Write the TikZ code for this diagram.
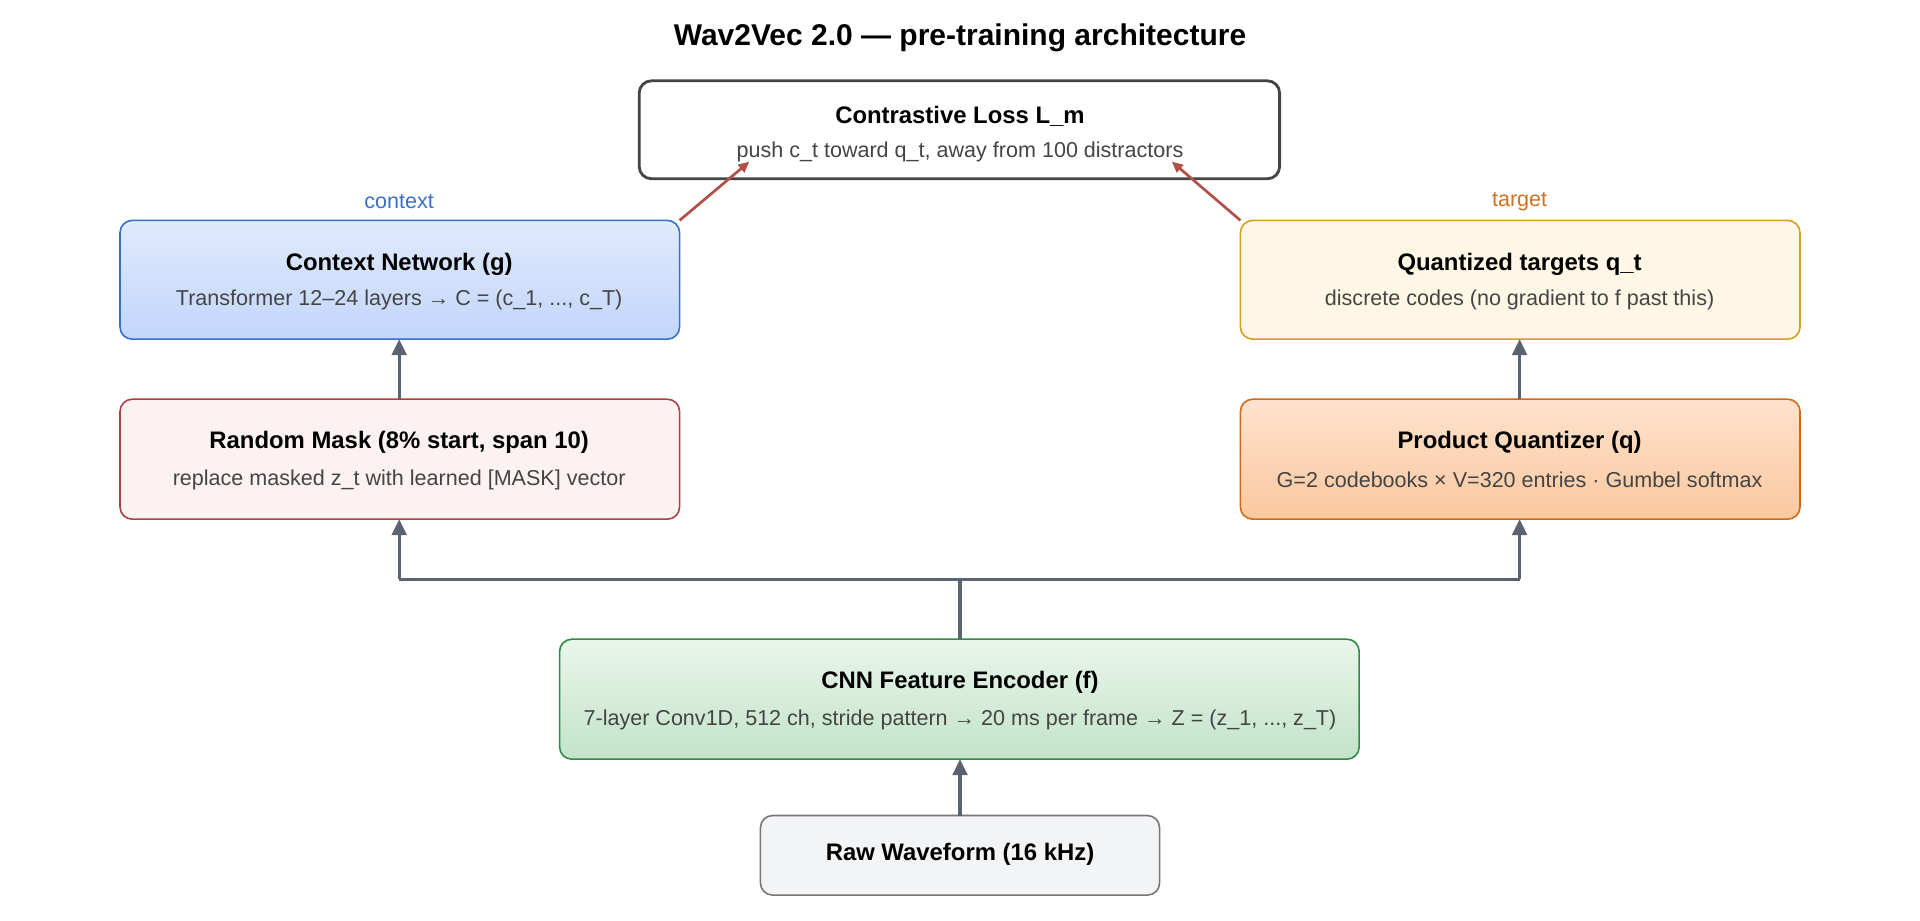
\documentclass[tikz,border=0pt]{standalone}
\usepackage{fontspec}
\setmainfont{Liberation Sans}
\usetikzlibrary{arrows.meta}
\definecolor{subc}{HTML}{444444}
\definecolor{arr}{HTML}{5A6370}
\definecolor{lossred}{HTML}{B05048}
\definecolor{ctxd}{HTML}{3A6FC9}\definecolor{ctxt}{HTML}{E0EAFD}\definecolor{ctxb}{HTML}{C2D6FA}
\definecolor{qd}{HTML}{D4A020}\definecolor{qf}{HTML}{FFF7E5}\definecolor{tgt}{HTML}{D07020}
\definecolor{md}{HTML}{B04040}\definecolor{mf}{HTML}{FDF2F2}
\definecolor{pd}{HTML}{D06A1A}\definecolor{pt}{HTML}{FEE2CE}\definecolor{pbot}{HTML}{FBC89E}
\definecolor{nd}{HTML}{2E8A45}\definecolor{nt}{HTML}{EAF6EC}\definecolor{nbot}{HTML}{C2E3C9}
\definecolor{rf}{HTML}{F3F4F6}\definecolor{rd}{HTML}{777777}\definecolor{ld}{HTML}{444444}
\tikzset{
 box/.style={draw, rounded corners=10pt, line width=1.3pt},
 ttl/.style={font=\fontsize{19.5}{23}\selectfont\bfseries},
 st/.style={font=\fontsize{17.6}{21}\selectfont, text=subc},
 lab/.style={font=\fontsize{17.6}{21}\selectfont},
 ar/.style={draw=arr, line width=2.5pt, -{Triangle[length=13pt,width=12pt]}},
 ln/.style={draw=arr, line width=2.5pt},
 la/.style={draw=lossred, line width=2.2pt, -{Triangle[length=9pt,width=8pt]}},
}
\begin{document}
\begin{tikzpicture}[x=1pt,y=-1pt]
\useasboundingbox (0,0) rectangle (1568,752);
\node[font=\fontsize{24.5}{28}\selectfont\bfseries] (title) at (784,31) {Wav2Vec 2.0 — pre-training architecture};
% loss
\draw[box, draw=ld, fill=white, line width=2.3pt] (522,66) rectangle (1045,146);
\node[ttl] (lt) at (784,95) {Contrastive Loss L\_m};
\node[st] (ls) at (784,124) {push c\_t toward q\_t, away from 100 distractors};
\coordinate (lin1) at (612,132);
\coordinate (lin2) at (957,132);
% context
\draw[box, draw=ctxd, top color=ctxt, bottom color=ctxb] (98,180) rectangle (555,277);
\node[ttl] (ct) at (326,216) {Context Network (g)};
\node[st] (cs) at (326,245) {Transformer 12–24 layers → C = (c\_1, ..., c\_T)};
\node[lab, text=ctxd] (cl) at (326,165) {context};
\coordinate (ctx) at (326,277);
\coordinate (ctxc) at (555,180);
% quantized
\draw[box, draw=qd, fill=qf] (1013,180) rectangle (1470,277);
\node[ttl] (qt) at (1241,216) {Quantized targets q\_t};
\node[st] (qs) at (1241,245) {discrete codes (no gradient to f past this)};
\node[lab, text=tgt] (tl) at (1241,165) {target};
\coordinate (qb) at (1241,277);
\coordinate (qc) at (1013,180);
% mask
\draw[box, draw=md, fill=mf] (98,326) rectangle (555,424);
\node[ttl] (mt) at (326,361) {Random Mask (8\% start, span 10)};
\node[st] (ms) at (326,392) {replace masked z\_t with learned [MASK] vector};
\coordinate (mtop) at (326,326);
\coordinate (mb) at (326,424);
% PQ
\draw[box, draw=pd, top color=pt, bottom color=pbot] (1013,326) rectangle (1470,424);
\node[ttl] (ptt) at (1241,361) {Product Quantizer (q)};
\node[st] (ps) at (1241,392) {G=2 codebooks × V=320 entries · Gumbel softmax};
\coordinate (ptop) at (1241,326);
\coordinate (pb) at (1241,424);
% CNN
\draw[box, draw=nd, top color=nt, bottom color=nbot] (457,522) rectangle (1110,620);
\node[ttl] (ntt) at (784,557) {CNN Feature Encoder (f)};
\node[st] (ns) at (784,588) {7-layer Conv1D, 512 ch, stride pattern → 20 ms per frame → Z = (z\_1, ..., z\_T)};
\coordinate (ntop) at (784,522);
\coordinate (nb) at (784,620);
\coordinate (j) at (784,473);
\coordinate (jl) at (326,473);
\coordinate (jr) at (1241,473);
% raw
\draw[box, draw=rd, fill=rf] (621,666) rectangle (947,731);
\node[ttl] (rt) at (784,698) {Raw Waveform (16 kHz)};
\coordinate (rtop) at (784,666);
% connectors
\draw[ar] (rtop) -- (nb);
\draw[ln] (ntop) -- (j);
\draw[ln] (jl) -- (jr);
\draw[ar] (jl) -- (mb);
\draw[ar] (jr) -- (pb);
\draw[ar] (mtop) -- (ctx);
\draw[ar] (ptop) -- (qb);
\draw[la] (ctxc) -- (lin1);
\draw[la] (qc) -- (lin2);
\end{tikzpicture}
\end{document}
